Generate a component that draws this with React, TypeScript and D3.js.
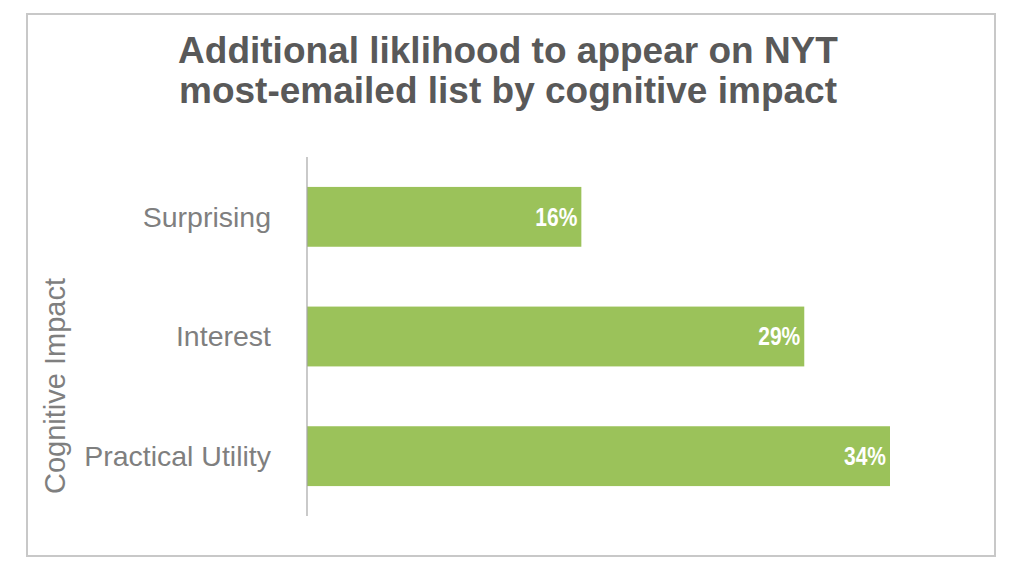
import React from "react";
import * as d3 from "d3";

// chart data
const categories = ["Surprising", "Interest", "Practical Utility"];
const values = [16, 29, 34];
const titleLines = ["Additional liklihood to appear on NYT", "most-emailed list by cognitive impact"];
const axisTitle = "Cognitive Impact";

const W = 1024;
const H = 577;
const FONT = "'Liberation Sans', Arial, sans-serif";

const App = () => {
  const plot = { left: 307, top: 157, bottom: 516 };
  const x = d3.scaleLinear().domain([0, 34]).range([plot.left, 890]);
  const y = d3
    .scaleBand<string>()
    .domain(categories)
    .range([plot.top, plot.bottom])
    .paddingInner(0.5)
    .paddingOuter(0.25);

  return (
    <svg
      width={W}
      height={H}
      style={{ position: "absolute", left: 0, top: 0, background: "#fff" }}
      fontFamily={FONT}
    >
      {/* outer frame */}
      <rect x={27} y={14} width={968} height={542} fill="#fff" stroke="#c8c8c8" strokeWidth={2} />

      {/* title */}
      {titleLines.map((t, i) => (
        <text
          key={t}
          x={508}
          y={63 + i * 40}
          textAnchor="middle"
          fontSize={37}
          fontWeight="bold"
          fill="#595959"
        >
          {t}
        </text>
      ))}

      {/* bars */}
      {categories.map((c, i) => (
        <rect
          key={c}
          x={x(0)}
          y={y(c)}
          width={x(values[i]) - x(0)}
          height={y.bandwidth()}
          fill="#9bc25a"
        />
      ))}

      {/* value labels */}
      {categories.map((c, i) => (
        <text
          key={c + "-v"}
          transform={`translate(${x(values[i]) - 4},${(y(c) as number) + y.bandwidth() / 2}) scale(0.84,1)`}
          dy="0.35em"
          textAnchor="end"
          fontSize={25}
          fontWeight="bold"
          fill="#fff"
        >
          {values[i]}%
        </text>
      ))}

      {/* category axis */}
      <line x1={x(0)} x2={x(0)} y1={plot.top} y2={plot.bottom} stroke="#a6a6a6" strokeWidth={1.2} />
      {categories.map((c) => (
        <text
          key={c + "-l"}
          x={271}
          y={(y(c) as number) + y.bandwidth() / 2}
          dy="0.35em"
          textAnchor="end"
          fontSize={28.5}
          fill="#7f7f7f"
        >
          {c}
        </text>
      ))}

      {/* axis title */}
      <text
        transform="translate(65,386) rotate(-90)"
        textAnchor="middle"
        fontSize={29}
        fill="#7f7f7f"
      >
        {axisTitle}
      </text>
    </svg>
  );
};

export default App;
